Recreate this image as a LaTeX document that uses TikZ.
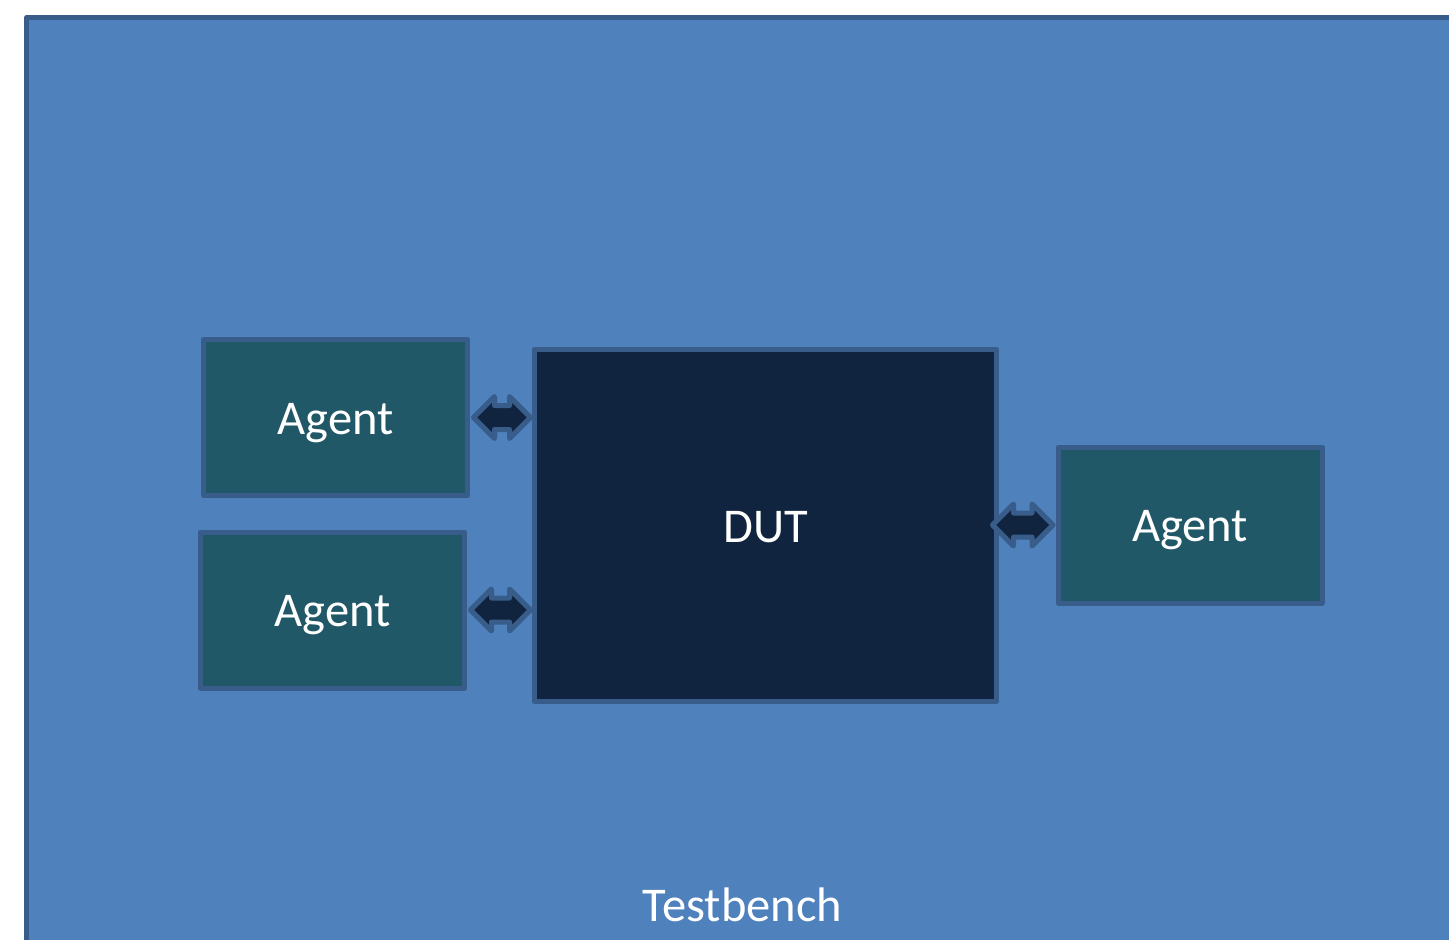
\documentclass[tikz,border=0pt]{standalone}
\usepackage{fontspec}
\setmainfont{Carlito}
\usetikzlibrary{calc}
\definecolor{tbfill}{HTML}{4F81BD}
\definecolor{edgeblue}{HTML}{385D8A}
\definecolor{agentfill}{HTML}{215868}
\definecolor{dutfill}{HTML}{10243F}
\tikzset{
  boxsty/.style={draw=edgeblue, line width=5pt, line join=round, text=white,
    font=\fontsize{48.5}{58}\selectfont, text height=33pt, text depth=0pt, inner sep=0pt, outer sep=0pt},
  agentbox/.style={boxsty, fill=agentfill, minimum width=264pt, minimum height=156pt},
  dutbox/.style={boxsty, fill=dutfill, minimum width=462pt, minimum height=352pt},
  arrowsty/.style={draw=edgeblue, fill=dutfill, line width=5pt, line join=round},
  tbsty/.style={draw=edgeblue, fill=tbfill, line width=5pt, line join=round}
}
\newcommand\dblarr[2]{%
  \draw[arrowsty] (#1) -- ++(21,-21) -- ++(0,9) -- ($(#2)+(-21,-12)$) -- ++(0,-9)
    -- (#2) -- ++(-21,21) -- ++(0,-9) -- ($(#1)+(21,12)$) -- ++(0,9) -- cycle;}
\begin{document}
\begin{tikzpicture}[x=1pt,y=-1pt]
\useasboundingbox (0,0) rectangle (1449,940);
\clip (0,0) rectangle (1449,940);
\draw[tbsty] (26.5,17.5) rectangle (1480,990);
\node[text=white, font=\fontsize{48.5}{58}\selectfont, anchor=base] (tblabel) at (742.5,921) {Testbench};
\node[agentbox] (a1) at (335.5,417.5) {Agent};
\node[agentbox] (a2) at (332.5,610) {Agent};
\node[agentbox] (a3) at (1190,525) {Agent};
\node[dutbox] (dut) at (765.5,525.5) {DUT};
\coordinate (p1l) at ($(a1.east)+(6,0)$);
\coordinate (p1r) at ($(dut.west |- a1.east)+(-4,0)$);
\coordinate (p2l) at ($(a2.east)+(6,0)$);
\coordinate (p2r) at ($(dut.west |- a2.east)+(-4,0)$);
\coordinate (p3l) at ($(dut.east |- a3.west)+(-4,0)$);
\coordinate (p3r) at ($(a3.west)+(-5,0)$);
\dblarr{p1l}{p1r}
\dblarr{p2l}{p2r}
\dblarr{p3l}{p3r}
\end{tikzpicture}
\end{document}
